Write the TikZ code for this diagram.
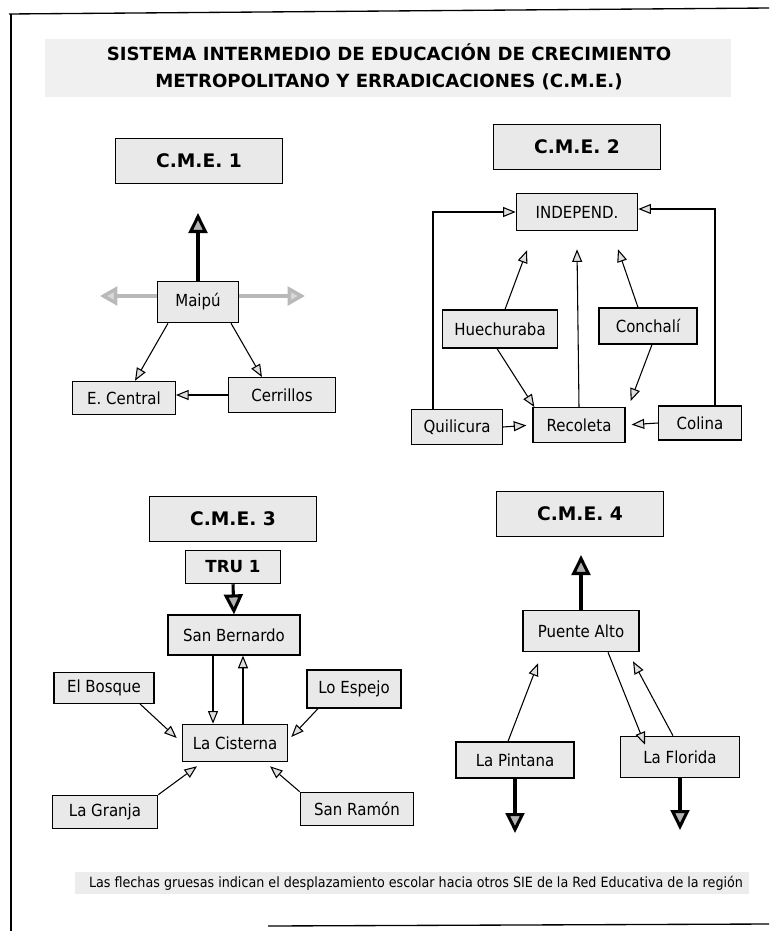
\documentclass[tikz,border=0pt]{standalone}
\usepackage{fontspec}
\setmainfont{DejaVu Sans}
\newfontfamily\tahoma[FakeStretch=0.9]{DejaVu Sans}
\usetikzlibrary{arrows.meta,calc}

\tikzset{
	box/.style={draw, fill=gray!17, inner sep=0pt, line width=0.9pt, font=\tahoma\fontsize{12.5}{14}\selectfont},
	cmebox/.style={box, minimum width=125pt, minimum height=34pt, font=\bfseries\fontsize{14}{16}\selectfont},
	thin arrow/.style={-{Triangle[length=9.5pt,width=7.5pt,fill=gray!25]}, line width=0.8pt},
	thick arrow/.style={-{Triangle[length=15pt,width=14pt,fill=gray!60]}, line width=2.3pt},
	side arrow/.style={-{Triangle[length=13pt,width=14pt,fill=gray!30]}, line width=2.6pt, draw=gray!55},
}

\begin{document}
\begin{tikzpicture}[x=0.75pt,y=-0.75pt]
			\useasboundingbox (0,0) rectangle (769,931);
			\draw[line width=1pt] (9,14)--(769,8);
			\draw[line width=1.4pt] (11,14)--(11,931);
			\draw[line width=1pt] (268,926)--(769,924);

			\node[fill=gray!12, minimum width=514pt, minimum height=43pt] at (388,68) (titlebg) {};
			\node[align=center, font=\bfseries\fontsize{13.6}{20}\selectfont] at (389,67) (title) {SISTEMA INTERMEDIO DE EDUCACIÓN DE CRECIMIENTO\\METROPOLITANO Y ERRADICACIONES (C.M.E.)};

			\node[cmebox] at (199,161) (cme1) {C.M.E. 1};
			\node[box, minimum width=61pt, minimum height=31pt] at (198,302) (maipu) {Maipú};
			\node[box, minimum width=77pt, minimum height=25pt] at (124,398) (ecentral) {E. Central};
			\node[box, minimum width=80pt, minimum height=26pt] at (282,395) (cerrillos) {Cerrillos};
			\coordinate (maipuup) at (198,213);
			\coordinate (maipuleft) at (100,296);
			\coordinate (maipuright) at (305,296);
			\draw[thick arrow] (maipu.north)--(maipuup);
			\draw[side arrow] ($(maipu.west)+(0,-6)$)--(maipuleft);
			\draw[side arrow] ($(maipu.east)+(0,-6)$)--(maipuright);
			\draw[thin arrow] ($(maipu.south)+(-30,0)$)--($(ecentral.north)+(11,0)$);
			\draw[thin arrow] ($(maipu.south)+(33,0)$)--($(cerrillos.north)+(-20,0)$);
			\draw[thin arrow] (cerrillos.west)--(ecentral.east |- cerrillos.west);

			\node[cmebox] at (577,147) (cme2) {C.M.E. 2};
			\node[box, minimum width=91pt, minimum height=28pt] at (577,212) (indep) {INDEPEND.};
			\node[box, minimum width=86pt, minimum height=28.5pt] at (500,329) (huech) {Huechuraba};
			\node[box, minimum width=73.5pt, minimum height=27pt] at (648,326) (conchali) {Conchalí};
			\node[box, minimum width=68pt, minimum height=26pt] at (457,427) (quilicura) {Quilicura};
			\node[box, minimum width=69pt, minimum height=26pt] at (579,425) (recoleta) {Recoleta};
			\node[box, minimum width=62pt, minimum height=25.5pt] at (700,423) (colina) {Colina};
			\draw[thin arrow] ($(quilicura.north)+(-24,0)$) |- (indep.west);
			\draw[thin arrow] ($(colina.north)+(15,0)$) |- ($(indep.east)+(0,-3)$);
			\draw[thin arrow] ($(huech.north)+(5,0)$)--($(indep.south)+(-50,19)$);
			\draw[thin arrow] (recoleta.north)--($(indep.south)+(0,18)$);
			\draw[thin arrow] ($(conchali.north)+(-10,0)$)--($(indep.south)+(41,18)$);
			\draw[thin arrow] ($(huech.south)+(-3,0)$)--($(recoleta.north west)+(2,0)$);
			\draw[thin arrow] ($(conchali.south)+(4,0)$)--($(recoleta.north east)+(5,-6)$);
			\draw[thin arrow, shorten >=4.5pt] (quilicura.east)--(recoleta.west);
			\draw[thin arrow, shorten >=4.5pt] (colina.west)--(recoleta.east);

			\node[cmebox] at (233,519) (cme3) {C.M.E. 3};
			\node[box, minimum width=71pt, minimum height=25pt, font=\bfseries\fontsize{12.5}{14}\selectfont] at (233,567) (tru) {TRU 1};
			\node[box, minimum width=99pt, minimum height=30pt] at (234,635) (sanbernardo) {San Bernardo};
			\node[box, minimum width=75pt, minimum height=23pt] at (104,688) (elbosque) {El Bosque};
			\node[box, minimum width=70.5pt, minimum height=28.5pt] at (354,689) (loespejo) {Lo Espejo};
			\node[box, minimum width=79pt, minimum height=28pt] at (235,743) (lacisterna) {La Cisterna};
			\node[box, minimum width=79pt, minimum height=25pt] at (105,812) (lagranja) {La Granja};
			\node[box, minimum width=85pt, minimum height=25pt] at (357,809) (sanramon) {San Ramón};
			\draw[thick arrow] (tru.south)--(sanbernardo.north);
			\draw[thin arrow] ($(sanbernardo.south)+(-21,0)$)--($(lacisterna.north)+(-22,0)$);
			\draw[thin arrow] ($(lacisterna.north)+(8,0)$)--($(sanbernardo.south)+(9,0)$);
			\draw[thin arrow] ($(elbosque.south)+(36,0)$)--($(lacisterna.west)+(-5,-5)$);
			\draw[thin arrow] ($(loespejo.south)+(-36,0)$)--($(lacisterna.east)+(3,-6)$);
			\draw[thin arrow] (lagranja.north east)--($(lacisterna.south)+(-38,4)$);
			\draw[thin arrow] (sanramon.north west)--($(lacisterna.south)+(35,4)$);

			\node[cmebox] at (580,514) (cme4) {C.M.E. 4};
			\node[box, minimum width=87pt, minimum height=31pt] at (581,631) (puentealto) {Puente Alto};
			\node[box, minimum width=88.5pt, minimum height=27pt] at (515,760) (lapintana) {La Pintana};
			\node[box, minimum width=89pt, minimum height=31pt] at (680,757) (laflorida) {La Florida};
			\coordinate (puenteup) at (581,555);
			\coordinate (pintanadown) at (515,833);
			\coordinate (floridadown) at (680,830);
			\draw[thick arrow] (puentealto.north)--(puenteup);
			\draw[thin arrow] ($(lapintana.north)+(-7,0)$)--($(puentealto.south)+(-43,11)$);
			\draw[thin arrow] ($(puentealto.south)+(27,0)$)--($(laflorida.north)+(-35,9)$);
			\draw[thin arrow] ($(laflorida.north)+(-7,0)$)--($(puentealto.south)+(52,9)$);
			\draw[thick arrow] (lapintana.south)--(pintanadown);
			\draw[thick arrow] (laflorida.south)--(floridadown);

			\node[fill=gray!15, minimum width=506pt, minimum height=17pt] at (412,883) (notebg) {};
			\node[font=\tahoma\fontsize{10.6}{12}\selectfont] at (416,883) (note) {Las flechas gruesas indican el desplazamiento escolar hacia otros SIE de la Red Educativa de la región};
		\end{tikzpicture}
\end{document}
